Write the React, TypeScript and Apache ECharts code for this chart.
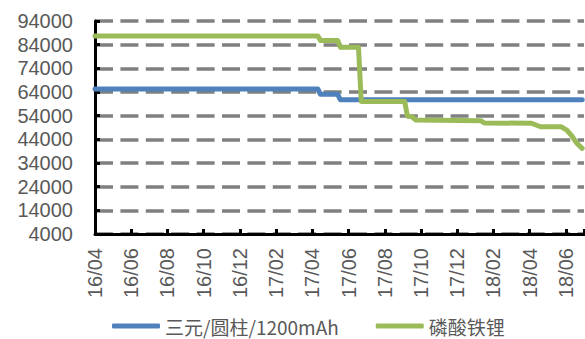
import React, { useEffect, useRef } from "react";
import * as echarts from "echarts";

// x = months since 2016-04 (0 = 16/04)
const seriesNames = ["三元/圆柱/1200mAh", "磷酸铁锂"];
const ternaryMonths = [0, 12.3, 12.45, 13.4, 13.55, 26.9];
const ternaryValues = [65300, 65300, 63000, 63000, 60700, 60700];
const lfpMonths = [0, 12.3, 12.45, 13.4, 13.55, 14.55, 14.7, 17.1, 17.25, 17.5, 17.7, 21.3, 21.5, 24.1, 24.6, 25.75, 26.05, 26.35, 26.6, 26.9];
const lfpValues = [87700, 87700, 85800, 85800, 82900, 82900, 60000, 60000, 53800, 53600, 52200, 51900, 50900, 50800, 49300, 49300, 47900, 45200, 42400, 40200];
const yMin = 4000;
const yMax = 94000;
const yStep = 10000;
const xMin = 0;
const xMax = 27;
const xStep = 2;
const startYear = 16;
const startMonth = 4;

const colors = ["#4F81BD", "#9BBB59"];

function monthLabel(v: number): string {
  if (Math.abs(v - Math.round(v)) > 1e-6) return "";
  const m = Math.round(v);
  if (m % 2 !== 0 || m > 26) return "";
  const total = startMonth - 1 + m;
  const yy = startYear + Math.floor(total / 12);
  const mm = (total % 12) + 1;
  return `${yy}/${mm < 10 ? "0" + mm : mm}`;
}

export default function App() {
  const ref = useRef<HTMLDivElement>(null);
  useEffect(() => {
    if (!ref.current) return;
    const chart = echarts.init(ref.current, null, { renderer: "svg" });
    const mk = (xs: number[], ys: number[]) => xs.map((x, i) => [x, ys[i]]);
    chart.setOption({
      animation: false,
      backgroundColor: "#ffffff",
      grid: { left: 95, right: 1, top: 21, bottom: 105 },
      legend: {
        top: 315,
        left: 112,
        padding: 0,
        itemWidth: 48,
        itemHeight: 5,
        itemGap: 37,
        icon: "roundRect",
        textStyle: { fontSize: 19, lineHeight: 22, color: "#595959", fontFamily: "Noto Sans CJK SC" },
        data: seriesNames,
      },
      xAxis: {
        type: "value",
        min: xMin,
        max: xMax,
        interval: xStep,
        axisLine: { show: true, lineStyle: { color: "#000", width: 3 } },
        axisTick: { show: true, inside: true, length: 5, lineStyle: { color: "#000", width: 3 } },
        splitLine: { show: false },
        axisLabel: {
          rotate: 90,
          margin: 14,
          fontSize: 20,
          color: "#595959",
          fontFamily: "Liberation Sans",
          formatter: (v: number) => monthLabel(v),
          showMaxLabel: true,
        },
      },
      yAxis: {
        type: "value",
        min: yMin,
        max: yMax,
        interval: yStep,
        axisLine: { show: true, lineStyle: { color: "#000", width: 3 } },
        axisTick: { show: true, inside: true, length: 5, lineStyle: { color: "#000", width: 3 } },
        splitLine: { show: true, lineStyle: { color: "#808080", width: 3.5, type: [18, 7.4] } },
        axisLabel: {
          margin: 22,
          fontSize: 20,
          color: "#595959",
          fontFamily: "Liberation Sans",
          formatter: (v: number) => String(v),
        },
      },
      series: [
        {
          name: seriesNames[0],
          type: "line",
          data: mk(ternaryMonths, ternaryValues),
          showSymbol: false,
          symbol: "none",
          color: colors[0],
          lineStyle: { width: 5, color: colors[0], cap: "round", join: "round" },
          z: 2,
        },
        {
          name: seriesNames[1],
          type: "line",
          data: mk(lfpMonths, lfpValues),
          showSymbol: false,
          symbol: "none",
          color: colors[1],
          lineStyle: { width: 5, color: colors[1], cap: "round", join: "round" },
          z: 3,
        },
      ],
    });
    return () => chart.dispose();
  }, []);
  return <div ref={ref} style={{ position: "fixed", left: 0, top: 0, width: 585, height: 339 }} />;
}
